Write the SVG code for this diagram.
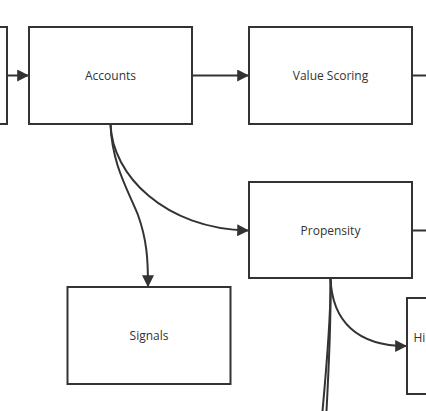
<svg xmlns="http://www.w3.org/2000/svg" width="426" height="411" viewBox="0 0 426 411">
<style>
.box{fill:#fff;stroke:#333;stroke-width:2}
.lbl{font-family:"Open Sans","Noto Sans",sans-serif;font-size:12px;fill:#333;text-anchor:middle;dominant-baseline:central}
.edge{fill:none;stroke:#333;stroke-width:2}
</style>
<defs>
<marker id="arr" viewBox="0 0 10 10" refX="9" refY="5" markerWidth="6" markerHeight="6" markerUnits="strokeWidth" orient="auto">
<path d="M0,0 L10,5 L0,10 z" fill="#333"/>
</marker>
</defs>
<rect width="426" height="411" fill="#fff"/>
<g id="edges">
<path class="edge" d="M7,75.5 L28,75.5" marker-end="url(#arr)"/>
<path class="edge" d="M192,75.5 L248,75.5" marker-end="url(#arr)"/>
<path class="edge" d="M412,75.5 L426,75.5"/>
<path class="edge" d="M110.5,124 C112,175 165,229 248,230.5" marker-end="url(#arr)"/>
<path class="edge" d="M110.5,124 C112,165 128,190 138,215 C147,240 148,260 148,286" marker-end="url(#arr)"/>
<path class="edge" d="M412,230.5 L426,230.5"/>
<path class="edge" d="M330.5,278 C332,322 358,346 406,346" marker-end="url(#arr)"/>
<path class="edge" d="M330.5,278 C331,300 329,340 322.5,411"/>
<path class="edge" d="M330.5,278 C331,305 330,345 326.5,411"/>
</g>
<g id="node-left"><rect class="box" x="-20" y="27" width="27" height="97"/></g>
<g id="node-accounts"><rect class="box" x="29" y="27" width="163" height="97"/><text class="lbl" x="110.5" y="75.5">Accounts</text></g>
<g id="node-value"><rect class="box" x="249" y="27" width="163" height="97"/><text class="lbl" x="330.5" y="75.5">Value Scoring</text></g>
<g id="node-propensity"><rect class="box" x="249" y="182" width="163" height="96"/><text class="lbl" x="330.5" y="230.5">Propensity</text></g>
<g id="node-signals"><rect class="box" x="67.5" y="287" width="163" height="97"/><text class="lbl" x="149" y="335.5">Signals</text></g>
<g id="node-hi"><rect class="box" x="407" y="298" width="163" height="96"/><text class="lbl" x="413.5" y="337" style="text-anchor:start">Hi</text></g>
</svg>
